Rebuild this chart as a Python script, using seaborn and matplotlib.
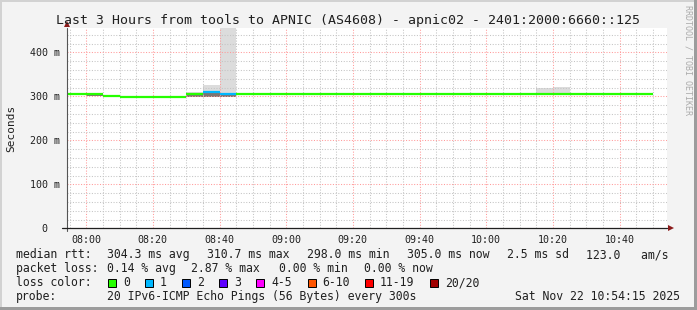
import matplotlib
matplotlib.use("Agg")
import matplotlib.pyplot as plt
import matplotlib.ticker as mticker
from matplotlib.patches import Rectangle
import numpy as np
import pandas as pd
import seaborn as sns

# ---------------- data ----------------
bin_times = ["07:50", "07:55", "08:00", "08:05", "08:10", "08:15", "08:20", "08:25",
             "08:30", "08:35", "08:40", "08:45", "08:50", "08:55", "09:00", "09:05",
             "09:10", "09:15", "09:20", "09:25", "09:30", "09:35", "09:40", "09:45",
             "09:50", "09:55", "10:00", "10:05", "10:10", "10:15", "10:20", "10:25",
             "10:30", "10:35", "10:40", "10:45"]
median_ms = [305, 305, 305, 301, 299, 298.5, 298, 298,
             305.5, 310.7, 304.5, 305, 305, 305, 305, 305,
             305, 305, 305, 305, 305, 305, 305, 305,
             305, 305, 305, 305, 305, 305, 305, 305,
             305, 305, 305, 305]
loss_count = [0, 0, 0, 0, 0, 0, 0, 0,
              0, 1, 1, 0, 0, 0, 0, 0,
              0, 0, 0, 0, 0, 0, 0, 0,
              0, 0, 0, 0, 0, 0, 0, 0,
              0, 0, 0, 0]

# light smoke (spread of all pings)
smoke_times = ["08:30", "08:35", "08:40", "10:15", "10:20"]
smoke_lo = [300, 300, 300, 304, 304]
smoke_hi = [309, 325, 600, 318, 322]
# dense smoke (where most pings lie)
dense_times = ["08:00", "08:30", "08:35", "08:40"]
dense_lo = [301, 299, 299, 299]
dense_hi = [304, 304, 309, 303]

x_tick_labels = ["08:00", "08:20", "08:40", "09:00", "09:20", "09:40", "10:00", "10:20", "10:40"]
y_tick_values = [0, 100, 200, 300, 400]
y_tick_labels = ["0  ", "100 m", "200 m", "300 m", "400 m"]

loss_labels = ["0", "1", "2", "3", "4-5", "6-10", "11-19", "20/20"]
loss_colors = ["#26ff00", "#00b8ff", "#0059ff", "#5e00ff", "#ff00ff", "#ff5500", "#ff0000", "#a10000"]

title = "Last 3 Hours from tools to APNIC (AS4608) - apnic02 - 2401:2000:6660::125"
window_start = "07:54:15"
window_end = "10:54:15"


def to_min(s):
    parts = [int(p) for p in s.split(":")]
    v = parts[0] * 60 + parts[1] - 480
    if len(parts) > 2:
        v += parts[2] / 60.0
    return v


# ---------------- style ----------------
sns.set_style("white")
plt.rcParams["font.family"] = ["DejaVu Sans Mono"]
FG = "#202020"
BG = "#f3f3f3"

W, H = 697, 310
fig = plt.figure(figsize=(W / 100, H / 100), dpi=100, facecolor=BG)


def fx(x):
    return x / W


def fy(y):
    return 1 - y / H


ax_left, ax_right, ax_top, ax_bot = 67, 667, 27.5, 228.3
ax = fig.add_axes([fx(ax_left), fy(ax_bot), (ax_right - ax_left) / W, (ax_bot - ax_top) / H])
ax.set_facecolor("white")

x0, x1 = to_min(window_start), to_min(window_end)
px_per_ms = 0.44
ax.set_xlim(x0, x1)
ax.set_ylim(0, (ax_bot - ax_top) / px_per_ms)

# smoke
sx = [to_min(t) for t in smoke_times]
ax.bar(sx, np.array(smoke_hi) - np.array(smoke_lo), bottom=smoke_lo, width=5, align="edge",
       color="#dcdcdc", linewidth=0, zorder=1)
dx = [to_min(t) for t in dense_times]
ax.bar(dx, np.array(dense_hi) - np.array(dense_lo), bottom=dense_lo, width=5, align="edge",
       color="#7d7672", linewidth=0, zorder=1.2)

# median segments coloured by loss
rows = []
for i, (t, v, l) in enumerate(zip(bin_times, median_ms, loss_count)):
    s = to_min(t)
    rows.append({"seg": i, "t": s, "v": v, "loss": l})
    rows.append({"seg": i, "t": s + 5, "v": v, "loss": l})
df = pd.DataFrame(rows)
sns.lineplot(data=df, x="t", y="v", hue="loss", units="seg", estimator=None,
             palette={0: loss_colors[0], 1: loss_colors[1]}, linewidth=1.6,
             legend=False, ax=ax, zorder=4, solid_capstyle="butt")

# grid & ticks
ax.set_xticks([to_min(t) for t in x_tick_labels])
ax.set_xticklabels(x_tick_labels)
ax.xaxis.set_minor_locator(mticker.MultipleLocator(5))
ax.set_yticks(y_tick_values)
ax.set_yticklabels(y_tick_labels)
ax.yaxis.set_minor_locator(mticker.MultipleLocator(20))
ax.set_axisbelow(False)
ax.grid(which="minor", color="#c4c4c4", linestyle=(0, (1, 1.6)), linewidth=0.75, zorder=2)
ax.grid(which="major", color="#ff9a9a", linestyle=(0, (1, 1.6)), linewidth=0.75, zorder=2)
ax.tick_params(which="major", length=2.2, width=0.7, color=FG, direction="out",
               labelsize=7.2, labelcolor=FG)
ax.tick_params(axis="y", pad=3.2)
ax.tick_params(axis="x", pad=2.8)
ax.tick_params(which="minor", length=0)
for sp in ax.spines.values():
    sp.set_visible(False)
ax.set_xlabel("")
ax.set_ylabel("")

# axis lines with arrows
ax.plot([0, 0], [-0.015, 1.0], transform=ax.transAxes, color="#555555", lw=0.8,
        clip_on=False, zorder=5)
ax.plot([-0.008, 1.0], [0, 0], transform=ax.transAxes, color=FG, lw=0.9,
        clip_on=False, zorder=5)
ax.plot([0], [1.015], marker="^", ms=4.5, color="#8b1a1a", transform=ax.transAxes,
        clip_on=False, zorder=6, markeredgewidth=0)
ax.plot([1.007], [0], marker=">", ms=4.5, color="#8b1a1a", transform=ax.transAxes,
        clip_on=False, zorder=6, markeredgewidth=0)

# titles
fig.text(fx(348.5), fy(24), title, ha="center", va="baseline", fontsize=9.5, color=FG)
fig.text(fx(11), fy(128), "Seconds", rotation=90, ha="center", va="center",
         fontsize=8, color=FG)
fig.text(fx(688), fy(60), "RRDTOOL / TOBI OETIKER", rotation=270, ha="center",
         va="center", fontsize=6, color="#ababab")

# legend lines
LS = 8.3
line1 = [(16, "median rtt:"), (107, "304.3 ms avg"), (207, "310.7 ms max"),
         (307, "298.0 ms min"), (407, "305.0 ms now"), (507, "2.5 ms sd"),
         (586, "123.0   am/s")]
line2 = [(16, "packet loss:"), (107, "0.14 % avg"), (191, "2.87 % max"),
         (279, "0.00 % min"), (364, "0.00 % now")]
for x, s in line1:
    fig.text(fx(x), fy(258), s, ha="left", va="baseline", fontsize=LS, color=FG)
for x, s in line2:
    fig.text(fx(x), fy(272), s, ha="left", va="baseline", fontsize=LS, color=FG)
fig.text(fx(16), fy(286), "loss color:", ha="left", va="baseline", fontsize=LS, color=FG)
box_x = [108, 145, 182, 219, 256, 307.5, 365, 430]
for bx, lab, col in zip(box_x, loss_labels, loss_colors):
    fig.add_artist(Rectangle((fx(bx), fy(286.5)), 8 / W, 8 / H, transform=fig.transFigure,
                             facecolor=col, edgecolor="#000000", linewidth=0.7))
    fig.text(fx(bx + 15), fy(286), lab, ha="left", va="baseline", fontsize=LS, color=FG)
fig.text(fx(16), fy(300), "probe:", ha="left", va="baseline", fontsize=LS, color=FG)
fig.text(fx(107), fy(300), "20 IPv6-ICMP Echo Pings (56 Bytes) every 300s", ha="left",
         va="baseline", fontsize=LS, color=FG)
fig.text(fx(680), fy(300), "Sat Nov 22 10:54:15 2025", ha="right", va="baseline",
         fontsize=LS, color=FG)

# bevel border
fig.add_artist(Rectangle((0, fy(2)), 1, 2 / H, transform=fig.transFigure, color="#d2d2d2", lw=0))
fig.add_artist(Rectangle((0, 0), 2 / W, 1, transform=fig.transFigure, color="#d2d2d2", lw=0))
fig.add_artist(Rectangle((0, 0), 1, 3 / H, transform=fig.transFigure, color="#9c9c9c", lw=0))
fig.add_artist(Rectangle((fx(694), 0), 3 / W, 1, transform=fig.transFigure, color="#9c9c9c", lw=0))

fig.savefig("out.png", dpi=100, facecolor=BG)
